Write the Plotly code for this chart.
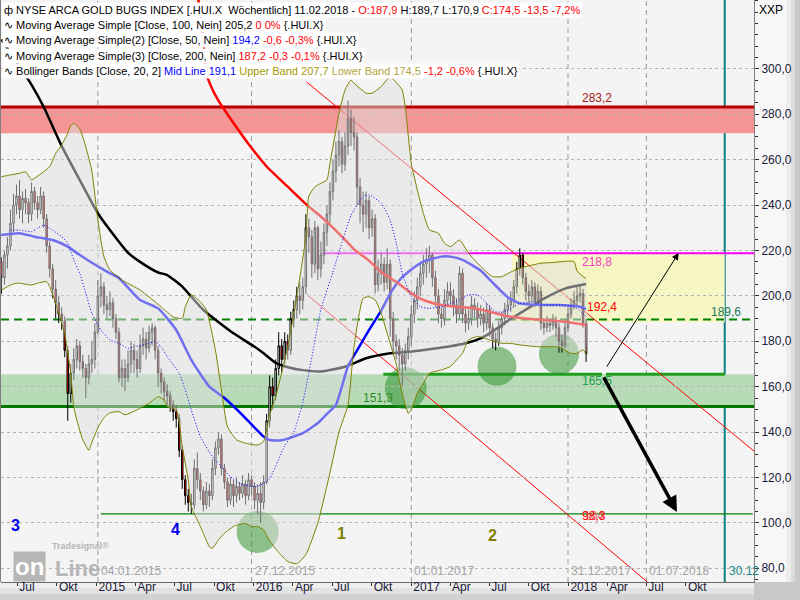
import pandas as pd
import plotly.graph_objects as go

# ---------------------------------------------------------------
# NYSE Arca Gold Bugs Index (.HUI.X), weekly candles up to 11.02.2018
# ---------------------------------------------------------------
LAST_WEEK = "2018-02-11"
FIRST_OPEN = 215.0

close = [208, 218, 222, 232, 240, 244, 238, 243, 241, 236,
         246, 241, 238, 244, 234, 222, 212, 203, 197, 192,
         189, 176, 157, 166, 172, 178, 171, 168, 164, 170,
         172, 184, 200, 204, 196, 194, 197, 190, 184, 164,
         168, 164, 170, 176, 172, 168, 178, 181, 177, 184,
         186, 176, 166, 162, 158, 156, 152, 149, 146, 132,
         119, 112, 109, 108, 124, 119, 114, 108, 114, 112,
         124, 133, 137, 124, 118, 110, 117, 112, 116, 113,
         117, 112, 119, 116, 110, 113, 109, 118, 145, 160,
         156, 168, 178, 172, 180, 176, 190, 194, 200, 198,
         204, 230, 226, 214, 230, 212, 218, 228, 236, 246,
         255, 262, 268, 258, 266, 278, 272, 270, 248, 240,
         236, 242, 230, 234, 205, 210, 214, 206, 214, 190,
         180, 178, 174, 170, 176, 182, 192, 198, 204, 210,
         214, 216, 218, 208, 200, 192, 190, 198, 202, 200,
         196, 192, 210, 192, 188, 190, 196, 194, 190, 192,
         188, 194, 186, 181, 180, 186, 190, 194, 196, 198,
         204, 212, 218, 208, 202, 200, 204, 198, 202, 188,
         186, 188, 187, 189, 186, 180, 178, 186, 192, 196,
         198, 200, 201, 187.9, 174.5]

high = [217, 220, 226, 238, 245, 249, 251, 246, 247, 243,
        250, 248, 244, 248, 246, 236, 224, 214, 207, 200,
        195, 191, 178, 170, 177, 181, 180, 174, 170, 174,
        180, 188, 207, 210, 206, 200, 202, 199, 192, 186,
        172, 172, 176, 180, 179, 176, 183, 186, 184, 187,
        188, 187, 178, 168, 164, 161, 158, 154, 152, 148,
        134, 121, 115, 113, 128, 131, 122, 116, 118, 117,
        128, 136, 140, 139, 126, 120, 120, 119, 120, 118,
        121, 119, 122, 121, 118, 117, 118, 121, 148, 165,
        164, 172, 184, 181, 184, 183, 193, 198, 204, 206,
        208, 236, 234, 229, 233, 231, 224, 232, 240, 250,
        260, 268, 273, 270, 272, 286, 282, 279, 272, 252,
        246, 246, 244, 238, 236, 216, 219, 217, 221, 216,
        193, 183, 181, 177, 179, 186, 196, 202, 208, 214,
        218, 221, 222, 219, 211, 203, 195, 203, 206, 206,
        203, 199, 213, 212, 195, 194, 200, 199, 197, 196,
        195, 197, 196, 188, 184, 189, 193, 197, 199, 202,
        207, 215, 221, 219, 210, 205, 207, 206, 205, 204,
        190, 191, 190, 192, 191, 188, 183, 189, 195, 199,
        202, 204, 205, 203, 189.7]

low = [201, 205, 212, 220, 228, 236, 234, 232, 236, 232,
       233, 238, 234, 236, 230, 219, 208, 199, 190, 188,
       185, 173, 145, 153, 163, 168, 167, 164, 155, 161,
       166, 168, 183, 195, 192, 190, 191, 186, 181, 162,
       160, 158, 162, 166, 166, 164, 166, 174, 172, 175,
       178, 172, 160, 157, 154, 152, 149, 145, 142, 129,
       115, 108, 105, 104, 106, 115, 110, 105, 106, 107,
       110, 121, 130, 121, 115, 107, 108, 107, 109, 110,
       111, 108, 110, 112, 106, 104, 100, 106, 117, 142,
       150, 154, 165, 166, 170, 172, 174, 186, 190, 192,
       194, 201, 219, 208, 210, 207, 208, 214, 222, 232,
       242, 250, 257, 254, 255, 262, 266, 264, 240, 232,
       228, 230, 225, 226, 201, 202, 205, 202, 203, 182,
       175, 172, 167, 160, 167, 172, 178, 188, 194, 200,
       205, 208, 210, 204, 195, 188, 186, 187, 195, 196,
       191, 188, 190, 188, 184, 185, 187, 190, 186, 187,
       184, 185, 182, 177, 176, 178, 183, 187, 190, 193,
       195, 201, 209, 205, 198, 196, 197, 195, 196, 185,
       183, 184, 184, 185, 182, 175, 175, 177, 184, 190,
       194, 196, 197, 186, 170.9]

# ---------------------------------------------------------------
# Indicator curves, sampled at week indices (0 = first candle)
# ---------------------------------------------------------------
ma100_idx = [0, 10, 14, 20, 26, 32, 36, 42, 46, 52, 55, 60, 67, 77, 84, 87, 91, 95,
             100, 106, 114, 121, 128, 132, 136, 142, 149, 154, 159, 162, 165, 168,
             172, 176, 180, 187, 194]
ma100_val = [313, 293, 283.3, 266, 251, 236.4, 229, 219, 215, 210.3, 209.2, 204.1,
             193.8, 183.5, 177.6, 174.7, 170.5, 168.6, 167.3, 166.7, 168.8, 172.5,
             174.5, 175.0, 175.5, 176.5, 177.8, 179.1, 181.3, 183.5, 186.2, 189.0,
             192.3, 195.6, 198.8, 203.2, 205.2]

ma50_idx = [0, 6, 11, 14, 17, 22, 26, 30, 35, 39, 44, 46, 52, 58, 63, 69, 74, 80, 87,
            89, 93, 100, 105, 108, 111, 115, 118, 122, 126, 129, 132, 136, 140, 146,
            149, 153, 159, 163, 168, 172, 179, 185, 192, 194]
ma50_val = [226.8, 227.6, 226.1, 225.4, 224.6, 221.7, 218.0, 214.6, 210.7, 207.8,
            200.8, 198.2, 194.5, 185.0, 171.8, 160.0, 155.0, 147.5, 138.0, 136.5,
            136.4, 139.5, 144.0, 148.0, 152.0, 169.0, 176.0, 185.0, 193.5, 201.0,
            206.8, 211.6, 215.1, 217.3, 217.3, 215.9, 211.2, 205.8, 199.4, 196.7,
            196.0, 196.0, 195.2, 194.2]

ma200_idx = [65, 67, 68, 70, 72, 75, 81, 88, 95, 102, 106, 113, 117, 122, 126, 132,
             136, 140, 146, 151, 157, 162, 167, 173, 180, 187, 194]
ma200_val = [334, 313, 298, 291, 286, 280, 268.7, 257, 248.1, 239.3, 235.0, 226.1,
             220.5, 215.5, 210.5, 205.2, 201.1, 198.2, 196.0, 195.2, 194.5, 193.0,
             191.3, 190.2, 189.4, 188.6, 187.2]

bb_up_idx = [0, 3, 6, 8, 10, 11, 14, 16, 18, 20, 22, 23, 24, 26, 28, 30, 32, 34, 36,
             40, 46, 53, 57, 60, 61, 63, 66, 68, 71, 73, 75, 78, 81, 85, 87, 89, 91,
             95, 98, 101, 102, 104, 106, 108, 109, 111, 112, 114, 116, 117, 121, 123,
             126, 129, 132, 133, 134, 136, 138, 140, 142, 145, 147, 149, 152, 155,
             159, 163, 166, 169, 172, 179, 183, 186, 190, 191, 193, 194]
bb_up_val = [252.5, 253.3, 254.0, 254.7, 251.1, 251.8, 254.7, 256.9, 262.8, 266.5,
             271.6, 275.0, 276.0, 273.5, 265.7, 255.0, 233.4, 217.3, 211.4, 207.0,
             202.6, 195.2, 190.8, 190.1, 195.2, 200.4, 197.4, 193.8, 176.2, 158.6,
             142.4, 136.6, 135.1, 134.3, 135.9, 147.6, 155.6, 177.6, 199.6, 226.0,
             244.0, 248.0, 249.6, 251.1, 258.4, 273.1, 280.4, 290.7, 295.1, 293.7,
             289.3, 289.3, 292.2, 296.5, 292.5, 290.7, 283.3, 258.4, 246.7, 236.4,
             229.1, 227.6, 223.2, 221.7, 224.6, 218.8, 213.0, 208.5, 208.5, 210.5,
             212.2, 214.4, 214.7, 215.1, 215.1, 211.0, 208.5, 207.7]

bb_lo_idx = [0, 2, 4, 6, 10, 12, 15, 16, 18, 19, 21, 22, 23, 24, 25, 27, 29, 30, 32,
             34, 36, 39, 41, 45, 49, 52, 54, 55, 58, 59, 60, 62, 63, 65, 67, 69, 70,
             72, 74, 77, 81, 83, 85, 87, 89, 92, 95, 98, 101, 105, 109, 112, 115, 117,
             120, 122, 124, 126, 128, 131, 132, 133, 135, 136, 138, 140, 142, 146,
             149, 151, 153, 155, 158, 162, 166, 169, 172, 178, 184, 186, 189, 191,
             193, 194]
bb_lo_val = [202.6, 204.1, 205.3, 205.6, 204.8, 205.6, 206.3, 204.1, 196.7, 192.5,
             183.5, 174.7, 165.9, 151.2, 145.4, 136.6, 132.0, 135.5, 141.9, 146.3,
             148.5, 149.0, 147.6, 149.8, 152.7, 155.6, 154.1, 151.2, 149.8, 143.9,
             133.6, 118.9, 107.2, 101.3, 95.4, 89.5, 88.8, 92.5, 95.4, 98.4,
             99.8, 98.4, 98.4, 96.9, 92.0, 87.0, 83.0, 82.0, 86.0, 100.0,
             122.0, 140.0, 152.0, 177.6, 198.9, 199.6, 198.2, 192.4, 183.5, 170.0,
             163.0, 157.1, 148.3, 149.8, 157.1, 161.5, 165.9, 167.4, 168.9, 171.8,
             174.7, 180.6, 182.1, 180.6, 179.1, 179.1, 178.4, 177.6, 177.6, 176.9,
             174.7, 174.7, 176.2, 174.5]

bb_mid_idx = [3, 6, 10, 12, 14, 16, 20, 22, 24, 26, 28, 30, 33, 36, 39, 42, 44, 49,
              51, 53, 55, 59, 61, 63, 66, 70, 73, 76, 79, 81, 84, 86, 89, 94, 97, 100,
              103, 106, 110, 113, 116, 120, 122, 126, 129, 131, 133, 136, 139, 142,
              146, 149, 152, 155, 158, 160, 162, 164, 167, 170, 172, 177, 180, 187,
              190, 194]
bb_mid_val = [229.0, 229.0, 228.3, 229.8, 231.2, 229.8, 226.1, 223.2, 215.8, 209.9,
              201.1, 192.3, 185.0, 180.6, 179.1, 176.9, 177.6, 179.1, 179.8, 177.6,
              173.3, 165.9, 158.6, 149.8, 138.0, 129.2, 124.8, 120.4, 117.4, 116.7,
              116.0, 116.7, 119.6, 134.0, 140.0, 153.0, 173.0, 194.0, 210.5, 223.5,
              235.5, 243.7, 244.5, 240.8, 233.4, 223.2, 210.0, 199.6, 195.2, 194.5,
              195.2, 196.7, 198.2, 200.4, 200.4, 198.2, 195.2, 193.0, 193.0, 195.2,
              196.7, 197.4, 196.0, 196.0, 195.2, 191.1]

# ---------------------------------------------------------------
# Drawing tools: levels, zones, channel, markers
# ---------------------------------------------------------------
resist_top, resist_bot = 283.2, 271.6
target_level = 218.8
pivot_level = 189.6
yellow_bottom = 188.4
support_top, support_bot = 165.5, 151.3
low_level = 104.0
level_labels = {"283,2": 283.2, "218,8": 218.8, "189,6": 189.6,
                "165,5": 165.5, "151,3": 151.3}

channel_upper = [("2016-05-03", 294.2), ("2019-03-08", 131.6)]
channel_lower = [("2016-05-03", 200.7), ("2019-03-08", 34.3)]

marker_dates = ["2015-01-04", "2015-12-27", "2017-01-01", "2017-12-31", "2018-07-01"]
marker_labels = ["04.01.2015", "27.12.2015", "01.01.2017", "31.12.2017", "01.07.2018"]
year_end_date, year_end_label = "2018-12-30", "30.12"

circle_centers = [("2016-01-10", 96.0), ("2016-12-19", 159.4),
                  ("2017-07-19", 169.0), ("2017-12-10", 174.4)]
circle_radius = [21, 21, 19.5, 20]

arrow_up = [("2018-03-29", 168.2), ("2018-09-14", 218.9)]
arrow_down = [("2018-03-22", 164.8), ("2018-09-10", 104.8)]

quarter_ticks = ["2014-07-01", "2014-10-01", "2015-01-01", "2015-04-01", "2015-07-01",
                 "2015-10-01", "2016-01-01", "2016-04-01", "2016-07-01", "2016-10-01",
                 "2017-01-01", "2017-04-01", "2017-07-01", "2017-10-01", "2018-01-01",
                 "2018-04-01", "2018-07-01", "2018-10-01"]
quarter_text = ["Jul", "Okt", "2015", "Apr", "Jul", "Okt", "2016", "Apr", "Jul", "Okt",
                "2017", "Apr", "Jul", "Okt", "2018", "Apr", "Jul", "Okt"]

X_START, X_END = "2014-05-24", "2019-03-08"
Y_MIN, Y_MAX = 73.96, 330.35

# ---------------------------------------------------------------
weeks = pd.date_range(end=LAST_WEEK, periods=len(close), freq="7D")
opens = [FIRST_OPEN] + close[:-1]


def at(idx):
    return [weeks[i] for i in idx]


def fmt(v):
    return f"{v:.1f}".replace(".", ",")


fig = go.Figure()

fig.add_trace(go.Candlestick(
    x=weeks, open=opens, high=high, low=low, close=close,
    increasing=dict(line=dict(color="#000000", width=1), fillcolor="#ffffff"),
    decreasing=dict(line=dict(color="#000000", width=1), fillcolor="#ff0000"),
    whiskerwidth=0, hoverinfo="skip", showlegend=False))

spl = dict(shape="spline", smoothing=0.5)
fig.add_trace(go.Scatter(x=at(ma100_idx), y=ma100_val, mode="lines",
                         line=dict(color="#000000", width=2.5, **spl), hoverinfo="skip"))
fig.add_trace(go.Scatter(x=at(ma50_idx), y=ma50_val, mode="lines",
                         line=dict(color="#0000ff", width=2.5, **spl), hoverinfo="skip"))
fig.add_trace(go.Scatter(x=at(ma200_idx), y=ma200_val, mode="lines",
                         line=dict(color="#ff0000", width=2.5, **spl), hoverinfo="skip"))

# translucent Bollinger envelope laid over price and averages
fig.add_trace(go.Scatter(
    x=at(bb_up_idx) + at(bb_lo_idx)[::-1], y=bb_up_val + bb_lo_val[::-1],
    mode="lines", fill="toself", fillcolor="rgba(224,224,224,0.5)",
    line=dict(width=0, **spl), hoverinfo="skip"))
fig.add_trace(go.Scatter(x=at(bb_up_idx), y=bb_up_val, mode="lines",
                         line=dict(color="#808000", width=1, **spl), hoverinfo="skip"))
fig.add_trace(go.Scatter(x=at(bb_lo_idx), y=bb_lo_val, mode="lines",
                         line=dict(color="#808000", width=1, **spl), hoverinfo="skip"))
fig.add_trace(go.Scatter(x=at(bb_mid_idx), y=bb_mid_val, mode="lines",
                         line=dict(color="#0000ff", width=1, dash="1px,2px", **spl),
                         hoverinfo="skip"))

# ---------------- shapes ----------------
shapes = []


def hband(y0, y1, color, x0=X_START, x1=X_END):
    shapes.append(dict(type="rect", xref="x", yref="y", x0=x0, x1=x1, y0=y0, y1=y1,
                       fillcolor=color, line=dict(width=0), layer="below"))


def hline(y, color, width, x0=X_START, x1=X_END, dash="solid"):
    shapes.append(dict(type="line", xref="x", yref="y", x0=x0, x1=x1, y0=y, y1=y,
                       line=dict(color=color, width=width, dash=dash), layer="below"))


hband(support_bot, support_top, "#b7dbb7")
hband(resist_bot, resist_top, "#f59494")
hband(yellow_bottom, target_level, "#f7f7c4", x0="2017-08-23", x1=year_end_date)

for d in marker_dates:
    shapes.append(dict(type="line", xref="x", yref="paper", x0=d, x1=d, y0=0, y1=1,
                       line=dict(color="#9a9a9a", width=1, dash="5px,4px"), layer="below"))
shapes.append(dict(type="line", xref="x", yref="paper", x0=year_end_date, x1=year_end_date,
                   y0=0, y1=1, line=dict(color="#0a8080", width=2), layer="below"))

hline(resist_top, "#b40000", 3)
hline(target_level, "#ff00ff", 2, x0="2016-06-07")
hline(pivot_level, "#008000", 2, dash="8px,5px")
hline(support_bot, "#007800", 3)
hline(support_top, "#1ea01e", 3, x0="2016-10-28", x1="2018-03-20")
hline(support_top, "#1ea01e", 3, x0="2018-03-29", x1=year_end_date)
hline(low_level, "#008000", 1.2, x0="2015-01-11", x1="2019-03-05")

for (xa, ya), (xb, yb) in (channel_upper, channel_lower):
    shapes.append(dict(type="line", xref="x", yref="y", x0=xa, y0=ya, x1=xb, y1=yb,
                       line=dict(color="#ff0000", width=1), layer="below"))

for (cx, cy), r in zip(circle_centers, circle_radius):
    shapes.append(dict(type="circle", xref="x", yref="y", xsizemode="pixel",
                       ysizemode="pixel", xanchor=cx, yanchor=cy, x0=-r, x1=r, y0=-r, y1=r,
                       fillcolor="rgba(34,139,34,0.5)", line=dict(width=0), layer="below"))

# frame pieces outside the plotting area
PW, PH, ML, MT = 753, 582, 1, 0


def px(x):
    return (x - ML) / PW


def py(y):
    return 1 - (y - MT) / PH


for x0, x1, col in [(754, 786, "#f7f7f7"), (786, 791, "#ececec"), (791, 795, "#dcdcdc"),
                    (795, 800, "#c9c9c9")]:
    shapes.append(dict(type="rect", xref="paper", yref="paper", x0=px(x0), x1=px(x1),
                       y0=py(582), y1=1, fillcolor=col, line=dict(width=0), layer="below"))
for y0, y1, col in [(582, 588, "#eeeeee"), (588, 594, "#e2e2e2"), (594, 600, "#d2d2d2")]:
    shapes.append(dict(type="rect", xref="paper", yref="paper", x0=px(0), x1=px(754),
                       y0=py(y1), y1=py(y0), fillcolor=col, line=dict(width=0), layer="below"))
shapes.append(dict(type="rect", xref="paper", yref="paper", x0=px(754), x1=px(800),
                   y0=py(600), y1=py(582), fillcolor="#c8c8c8", line=dict(width=0),
                   layer="below"))
shapes.append(dict(type="line", xref="paper", yref="paper", x0=px(0.5), x1=px(0.5),
                   y0=0, y1=1, line=dict(color="#808080", width=1)))

# ---------------- annotations ----------------
anns = []
FONT = "Liberation Sans"


def txt(text, x, y, color, size=12, xref="x", yref="y", xanchor="center", yshift=0,
        xshift=0, bold=False, bg=None):
    a = dict(text=f"<b>{text}</b>" if bold else text, x=x, y=y, xref=xref, yref=yref,
             xanchor=xanchor, yanchor="middle", showarrow=False, yshift=yshift,
             xshift=xshift, font=dict(family=FONT, size=size, color=color))
    if bg:
        a.update(bgcolor=bg, borderpad=1)
    anns.append(a)


txt("283,2", "2018-03-08", level_labels["283,2"], "#a81818", yshift=9)
txt("218,8", "2018-03-08", level_labels["218,8"], "#f03cc8", yshift=-9)
txt("192,4", "2018-02-08", 195.2, "#ff0000", xanchor="left")
txt("189,6", "2019-01-01", level_labels["189,6"], "#1a7a5a", yshift=8)
txt("165,5", "2018-03-08", level_labels["165,5"], "#22a04a", yshift=-7)
txt("151,3", "2016-10-16", level_labels["151,3"], "#2a8a2a", yshift=8)
# two marker values printed on top of each other at the 104 line
txt("104", "2018-03-02", low_level, "#f07070", yshift=-2)
txt("98,3", "2018-03-02", low_level, "#ff0000", yshift=-2)

for d, lab in zip(marker_dates, marker_labels):
    txt(lab, d, py(571), "#a4a4a4", yref="paper", xanchor="left", xshift=1)
txt(year_end_label, year_end_date, py(571), "#178a8a", yref="paper", xanchor="left",
    xshift=2)

# Elliott wave counts
for lab, x, y, col in [("3", 15, 525, "#0000ee"), ("4", 175, 529, "#0000ee"),
                       ("1", 341, 533, "#808000"), ("2", 492, 535, "#808000")]:
    txt(lab, px(x), py(y), col, size=16, xref="paper", yref="paper", bold=True)

# projected moves
for (x0, y0), (x1, y1), w, head in [(arrow_up[0], arrow_up[1], 1, 1.4),
                                     (arrow_down[0], arrow_down[1], 3.5, 0.9)]:
    anns.append(dict(x=x1, y=y1, ax=x0, ay=y0, xref="x", yref="y", axref="x", ayref="y",
                     text="", showarrow=True, arrowhead=2, arrowsize=head, arrowwidth=w,
                     arrowcolor="#000000", standoff=0))

# header / indicator legend
ma100_txt = fmt(ma100_val[-1])
ma50_txt = fmt(ma50_val[-1])
ma200_txt = fmt(ma200_val[-1])
legend_rows = [
    ("ф NYSE ARCA GOLD BUGS INDEX [.HUI.X  Wöchentlich] 11.02.2018 - "
     f"<span style='color:#ff0000'>O:{fmt(opens[-1])}</span> "
     f"H:{fmt(high[-1])} L:{fmt(low[-1])} "
     f"<span style='color:#ff0000'>C:{fmt(close[-1])} -13,5 -7,2%</span>"),
    (f"∿ Moving Average Simple [Close, 100, Nein] {ma100_txt} "
     "<span style='color:#ff0000'>0 0%</span> {.HUI.X}"),
    (f"∿ Moving Average Simple(2) [Close, 50, Nein] <span style='color:#0000ff'>{ma50_txt}</span> "
     "<span style='color:#ff0000'>-0,6 -0,3%</span> {.HUI.X}"),
    (f"∿ Moving Average Simple(3) [Close, 200, Nein] "
     f"<span style='color:#ff0000'>{ma200_txt} -0,3 -0,1%</span> {{.HUI.X}}"),
    (f"∿ Bollinger Bands [Close, 20, 2] <span style='color:#0000ff'>Mid Line {fmt(bb_mid_val[-1])}</span> "
     f"<span style='color:#a39a00'>Upper Band {fmt(bb_up_val[-1])}</span> "
     f"<span style='color:#b0a640'>Lower Band {fmt(bb_lo_val[-1])}</span> "
     "<span style='color:#ff0000'>-1,2 -0,6%</span> {.HUI.X}"),
]
for row, yc in zip(legend_rows, [9.5, 25, 40.5, 56, 71]):
    txt(row, px(2), py(yc), "#000000", size=11, xref="paper", yref="paper",
        xanchor="left", bg="#ffffff")

txt("XXP", px(757), py(10), "#000000", size=12, xref="paper", yref="paper", xanchor="left")

# Tradesignal online badge
txt("on", px(29), py(566), "#ffffff", size=24, xref="paper", yref="paper", bold=True,
    bg="#b6b6b6")
txt("Line", px(77), py(568), "#b6b6b6", size=22, xref="paper", yref="paper", bold=True)
txt("Tradesignal®", px(80), py(546), "#b6b6b6", size=9, xref="paper", yref="paper",
    bold=True)

fig.update_layout(
    width=800, height=600,
    margin=dict(l=ML, r=46, t=MT, b=18, autoexpand=False),
    paper_bgcolor="#f0f0f0", plot_bgcolor="#f4f4f4",
    showlegend=False, hovermode=False, separators=",.",
    font=dict(family=FONT, size=12, color="#1a1a3a"),
    shapes=shapes, annotations=anns,
    xaxis=dict(type="date", range=[X_START, X_END], rangeslider=dict(visible=False),
               showgrid=False, zeroline=False, tickvals=quarter_ticks, ticktext=quarter_text,
               ticks="outside", ticklen=3, tickcolor="#303030",
               ticklabelposition="outside right", ticklabelshift=1,
               ticklabelstandoff=-6,
               tickfont=dict(family=FONT, size=12, color="#1a1a3a"),
               showline=True, linecolor="#6a6a6a", linewidth=1),
    yaxis=dict(side="right", range=[Y_MIN, Y_MAX], tickvals=list(range(80, 301, 20)),
               tickformat=".1f", ticks="outside", ticklen=4, tickcolor="#303030",
               showgrid=True, gridcolor="#b4b4b4", griddash="dot", gridwidth=1,
               zeroline=False, showline=True, linecolor="#808080", linewidth=1,
               minor=dict(dtick=5, tick0=0, ticks="outside", ticklen=3,
                          tickcolor="#303030", showgrid=False),
               tickfont=dict(family=FONT, size=12, color="#1a1a3a")),
)

fig.write_html("out.html")
